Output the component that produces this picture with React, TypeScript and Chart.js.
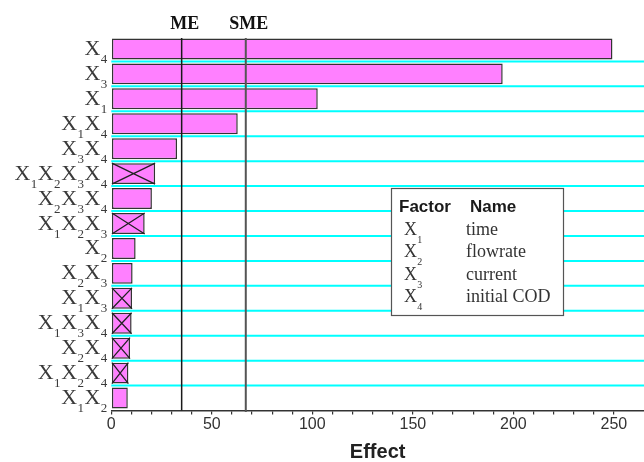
import React, { useEffect, useRef } from "react";
import { Chart, registerables } from "chart.js";

Chart.register(...registerables);

// ---- data ----
const categories = [
  "X4", "X3", "X1", "X1X4", "X3X4", "X1X2X3X4", "X2X3X4", "X1X2X3",
  "X2", "X2X3", "X1X3", "X1X3X4", "X2X4", "X1X2X4", "X1X2",
];
const effects = [249.3, 194.7, 102.7, 62.9, 32.7, 21.8, 20.2, 16.6, 12.1, 10.6, 10.3, 10.1, 9.3, 8.5, 8.2];
const crossed = [false, false, false, false, false, true, false, true, false, false, true, true, true, true, false];
const meValue = 35.0;
const smeValue = 66.9;
const refLabels = ["ME", "SME"];
const xMax = 265;
const xStep = 10;
const xLabelStep = 50;
const xTitle = "Effect";
const legendHeader = ["Factor", "Name"];
const legendFactors = ["X1", "X2", "X3", "X4"];
const legendNames = ["time", "flowrate", "current", "initial COD"];

const SERIF = "'Liberation Serif', 'Times New Roman', serif";
const SANS = "'Liberation Sans', Arial, sans-serif";

function tokens(label: string): [string, string][] {
  const out: [string, string][] = [];
  const re = /([A-Za-z]+)(\d*)/g;
  let m: RegExpExecArray | null;
  while ((m = re.exec(label))) out.push([m[1], m[2]]);
  return out;
}

function subWidth(ctx: CanvasRenderingContext2D, label: string, big: string, small: string, gap: number) {
  let w = 0;
  for (const [b, s] of tokens(label)) {
    ctx.font = big;
    w += ctx.measureText(b).width;
    ctx.font = small;
    w += ctx.measureText(s).width + gap;
  }
  return w;
}

function drawSub(
  ctx: CanvasRenderingContext2D, label: string, x: number, baseY: number,
  big: string, small: string, drop: number, gap: number
) {
  let cx = x;
  ctx.textAlign = "left";
  ctx.textBaseline = "alphabetic";
  for (const [b, s] of tokens(label)) {
    ctx.font = big;
    ctx.fillText(b, cx, baseY);
    cx += ctx.measureText(b).width;
    ctx.font = small;
    ctx.fillText(s, cx + gap * 0.3, baseY + drop);
    cx += ctx.measureText(s).width + gap;
  }
}

const customDraw = {
  id: "customDraw",
  beforeDatasetsDraw(chart: any) {
    const { ctx, chartArea: a, scales } = chart;
    const y = scales.y;
    ctx.save();
    ctx.strokeStyle = "#00FFFF";
    ctx.lineWidth = 2;
    for (let i = 0; i < categories.length - 1; i++) {
      const yy = (y.getPixelForValue(i) + y.getPixelForValue(i + 1)) / 2;
      ctx.beginPath();
      ctx.moveTo(a.left, yy);
      ctx.lineTo(a.right, yy);
      ctx.stroke();
    }
    ctx.restore();
  },
  afterDatasetsDraw(chart: any) {
    const { ctx, chartArea: a, scales } = chart;
    const x = scales.x;
    const y = scales.y;
    ctx.save();
    // crosses in bars
    const meta = chart.getDatasetMeta(0);
    ctx.strokeStyle = "#222";
    ctx.lineWidth = 1.3;
    meta.data.forEach((bar: any, i: number) => {
      if (!crossed[i]) return;
      const p = bar.getProps(["x", "y", "base", "height"], true);
      const l = p.base, r = p.x, t = p.y - p.height / 2, b = p.y + p.height / 2;
      ctx.beginPath();
      ctx.moveTo(l, t);
      ctx.lineTo(r, b);
      ctx.moveTo(l, b);
      ctx.lineTo(r, t);
      ctx.stroke();
    });
    // ME / SME lines
    const vals = [meValue, smeValue];
    const cols = ["#1a1a1a", "#555"];
    vals.forEach((v, k) => {
      const px = x.getPixelForValue(v);
      ctx.strokeStyle = cols[k];
      ctx.lineWidth = k === 0 ? 1.5 : 2;
      ctx.beginPath();
      ctx.moveTo(px, a.top + 1.5);
      ctx.lineTo(px, a.bottom + (k === 0 ? 0 : 1.5));
      ctx.stroke();
      ctx.fillStyle = "#111";
      ctx.font = `bold 18px ${SERIF}`;
      ctx.textAlign = "center";
      ctx.textBaseline = "alphabetic";
      ctx.fillText(refLabels[k], px + 3, 29);
    });
    // category labels with subscripts
    ctx.fillStyle = "#3a3a3a";
    const big = `22px ${SERIF}`;
    const small = `13px ${SERIF}`;
    categories.forEach((c, i) => {
      const yc = y.getPixelForValue(i);
      const w = subWidth(ctx, c, big, small, 1);
      drawSub(ctx, c, 108 - w, yc + 6, big, small, 8, 1);
    });
    ctx.restore();
  },
  afterDraw(chart: any) {
    const { ctx } = chart;
    ctx.save();
    // legend box
    const bx = 391.5, by = 188.5, bw = 172, bh = 127;
    ctx.fillStyle = "#fff";
    ctx.fillRect(bx, by, bw, bh);
    ctx.strokeStyle = "#555";
    ctx.lineWidth = 1.2;
    ctx.strokeRect(bx, by, bw, bh);
    ctx.fillStyle = "#1a1a1a";
    ctx.font = `bold 17px ${SANS}`;
    ctx.textAlign = "left";
    ctx.textBaseline = "alphabetic";
    ctx.fillText(legendHeader[0], 399, 212);
    ctx.fillText(legendHeader[1], 470, 212);
    ctx.fillStyle = "#333";
    legendFactors.forEach((f, i) => {
      const base = 235 + i * 22.3;
      drawSub(ctx, f, 404, base, `18px ${SERIF}`, `10px ${SERIF}`, 8, 1);
      ctx.font = `18px ${SERIF}`;
      ctx.fillText(legendNames[i], 466, base);
    });
    ctx.restore();
  },
};

export default function App() {
  const ref = useRef<HTMLCanvasElement | null>(null);
  useEffect(() => {
    document.body.style.margin = "0";
    const canvas = ref.current;
    if (!canvas) return;
    const chart = new Chart(canvas, {
      type: "bar",
      data: {
        labels: categories,
        datasets: [
          {
            data: effects,
            backgroundColor: "#FF80FF",
            borderColor: "#333",
            borderWidth: 1.5,
            borderSkipped: false,
            barPercentage: 0.84,
            categoryPercentage: 1,
          },
        ],
      },
      options: {
        indexAxis: "y",
        responsive: false,
        animation: false,
        devicePixelRatio: 1,
        layout: { padding: { top: 36.5, left: 0, right: 0, bottom: 0 } },
        plugins: { legend: { display: false }, tooltip: { enabled: false } },
        scales: {
          x: {
            type: "linear",
            min: 0,
            max: xMax,
            position: "bottom",
            afterFit: (s: any) => {
              s.height = 51.5;
            },
            afterBuildTicks: (s: any) => {
              s.ticks = s.ticks.filter((t: any) => t.value % xStep === 0);
            },
            ticks: {
              stepSize: xStep,
              autoSkip: false,
              maxRotation: 0,
              color: "#333",
              padding: 0,
              font: { family: SANS, size: 16 },
              callback: (v: any) => (Number(v) % xLabelStep === 0 ? String(v) : ""),
            },
            grid: { drawOnChartArea: false, drawTicks: true, tickLength: 4, color: "#333", lineWidth: 1.2 },
            border: { display: true, color: "#333", width: 1.5 },
            title: {
              display: true,
              text: xTitle,
              color: "#222",
              padding: 0,
              font: { family: SANS, size: 20, weight: "bold", lineHeight: 1 },
            },
          },
          y: {
            type: "category",
            afterFit: (s: any) => {
              s.width = 111.3;
            },
            ticks: { display: false },
            grid: { display: false },
            border: { display: false },
          },
        },
      },
      plugins: [customDraw],
    } as any);
    return () => chart.destroy();
  }, []);
  return (
    <div style={{ width: 644, height: 462, background: "#fff" }}>
      <canvas ref={ref} width={644} height={462} />
    </div>
  );
}
